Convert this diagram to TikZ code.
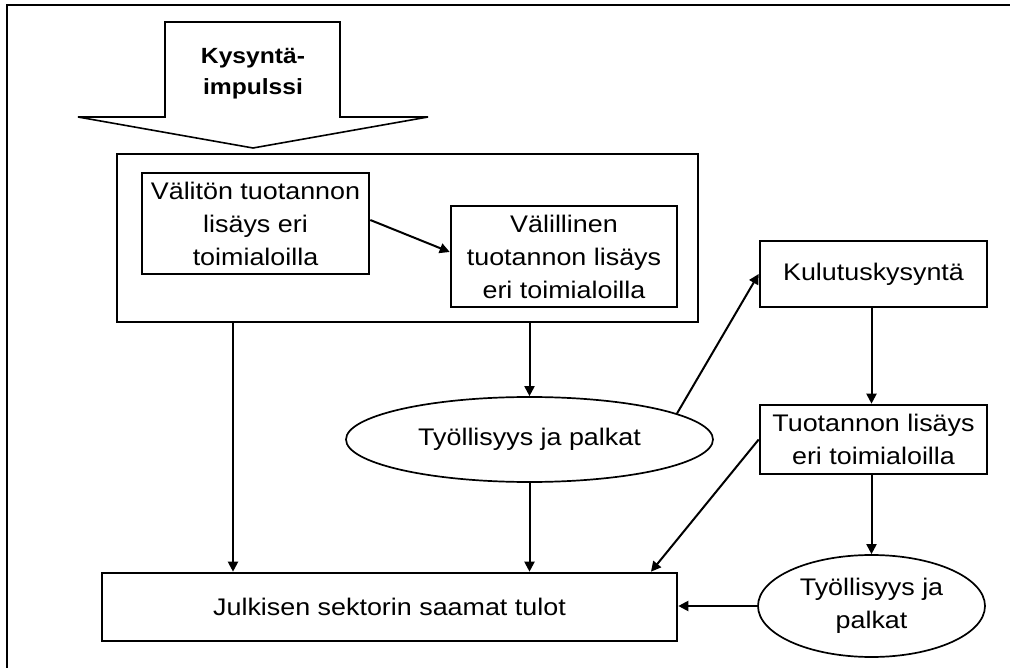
\documentclass[tikz,border=0pt]{standalone}
\usepackage{fontspec}
\setmainfont{Liberation Sans}[FakeStretch=1.12]
\usetikzlibrary{arrows.meta,shapes.geometric}
\tikzset{
  box/.style={draw, line width=2.6pt, rectangle, inner sep=0pt, align=center,
    font=\fontsize{24}{33}\selectfont},
  grpbox/.style={draw, line width=1.7pt, rectangle, inner sep=0pt},
  ell/.style={draw, line width=1.7pt, ellipse, inner sep=0pt, align=center,
    font=\fontsize{24}{33}\selectfont},
  arr/.style={line width=2pt, -{Triangle[length=10pt,width=10pt]}},
}
\begin{document}
\begin{tikzpicture}[x=1pt,y=-1pt]
\useasboundingbox (0,0) rectangle (1010,668);
% cropped outer frame
\draw[line width=2.7pt] (7,668) -- (7,5) -- (1010,5);
% big block arrow
\draw[line width=1.6pt, line join=miter]
  (165,22) -- (340,22) -- (340,117) -- (428,117) -- (253,148) -- (78,117) -- (165,117) -- cycle;
\node[align=center, inner sep=0pt, font=\bfseries\fontsize{22}{31}\selectfont] (imp) at (253,74) {Kysyntä-\\impulssi};
% group box
\node[grpbox, minimum width=581pt, minimum height=168pt] (grp) at (407.5,238) {};
\node[box, minimum width=227pt, minimum height=101pt] (b1) at (255.5,223.5) {Välitön tuotannon\\lisäys eri\\toimialoilla};
\node[box, minimum width=226pt, minimum height=101pt] (b2) at (564,256.5) {Välillinen\\tuotannon lisäys\\eri toimialoilla};
\node[box, minimum width=227pt, minimum height=66pt] (kul) at (873.5,274) {Kulutuskysyntä};
\node[box, minimum width=227pt, minimum height=69pt] (tuo) at (873.5,439.5) {Tuotannon lisäys\\eri toimialoilla};
\node[ell, minimum width=367pt, minimum height=85pt] (e1) at (529.5,439.5) {Työllisyys ja palkat};
\node[ell, minimum width=227pt, minimum height=102pt] (e2) at (871.5,606) {Työllisyys ja\\palkat};
\node[box, minimum width=575pt, minimum height=68pt] (jul) at (389.5,607) {Julkisen sektorin saamat tulot};
\coordinate (c1) at (233,0);
\coordinate (c2) at (651,0);
% connectors
\draw[arr] ([yshift=3.5pt]b1.east) -- ([yshift=4.5pt]b2.west);
\draw[arr] (grp.south -| c1) -- (jul.north -| c1);
\draw[arr] (grp.south -| e1.north) -- (e1.north);
\draw[arr] (e1.south) -- (jul.north -| e1.south);
\draw[arr] (e1.10) -- (kul.west);
\draw[arr] (kul.south -| e2.north) -- (tuo.north -| e2.north);
\draw[arr] (tuo.west) -- (jul.north -| c2);
\draw[arr] (tuo.south -| e2.north) -- (e2.north);
\draw[arr] (e2.west) -- (jul.east |- e2.west);
\end{tikzpicture}
\end{document}
